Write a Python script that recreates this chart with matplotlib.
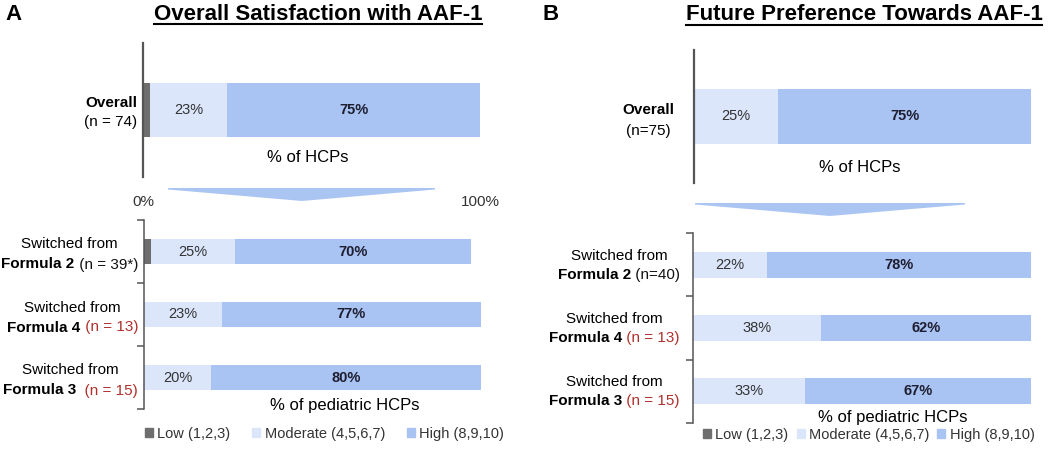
import matplotlib.pyplot as plt
from matplotlib.patches import Patch, Polygon
from matplotlib.transforms import offset_copy
from matplotlib.lines import Line2D

plt.rcParams['font.family'] = ['Liberation Sans', 'DejaVu Sans']

# ---- data (percent of HCPs) ----
groups = ['Formula 2', 'Formula 4', 'Formula 3']

a_title = 'Overall Satisfaction with AAF-1'
a_overall_n = '(n = 74)'
a_overall_low, a_overall_mod, a_overall_high = 2, 23, 75
a_n = [' (n = 39*)', ' (n = 13)', '  (n = 15)']
a_low = [2, 0, 0]
a_mod = [25, 23, 20]
a_high = [70, 77, 80]

b_title = 'Future Preference Towards AAF-1'
b_overall_n = '(n=75)'
b_overall_low, b_overall_mod, b_overall_high = 0, 25, 75
b_n = [' (n=40)', ' (n = 13)', ' (n = 15)']
b_low = [0, 0, 0]
b_mod = [22, 38, 33]
b_high = [78, 62, 67]

n_red = [False, True, True]
legend_labels = ['Low (1,2,3)', 'Moderate (4,5,6,7)', 'High (8,9,10)']

low_c, mod_c, high_c = '#6e6e6e', '#dbe6fb', '#a9c4f3'
red = '#b0302b'
spine_c = '#555555'

W, H = 1053, 454
fig = plt.figure(figsize=(W / 100, H / 100), dpi=100)


def box(l, t, r, b):
    return [l / W, 1 - b / H, (r - l) / W, (b - t) / H]


def bars(ax, low, mod, high, h):
    y = list(range(len(mod)))
    left_high = [a + b for a, b in zip(low, mod)]
    ax.barh(y, low, height=h, color=low_c)
    ax.barh(y, mod, left=low, height=h, color=mod_c)
    ax.barh(y, high, left=left_high, height=h, color=high_c)
    for i in y:
        ax.text(low[i] + mod[i] / 2, i, f'{mod[i]}%', ha='center', va='center',
                fontsize=10.5, color='#333333')
        ax.text(left_high[i] + high[i] / 2, i, f'{high[i]}%', ha='center', va='center',
                fontsize=10.5, color='#1e1e30', fontweight='bold')
    ax.set_xlim(0, 100)
    ax.patch.set_visible(False)
    for s in ['top', 'right', 'bottom']:
        ax.spines[s].set_visible(False)
    ax.spines['left'].set_color(spine_c)
    ax.set_yticks([])
    ax.set_xticks([])


# ---- axes ----
ax_a1 = fig.add_axes(box(143, 43, 480, 177))
bars(ax_a1, [a_overall_low], [a_overall_mod], [a_overall_high], 0.41)
ax_a1.set_ylim(-0.5, 0.5)
ax_a1.spines['left'].set_linewidth(1.6)
ax_a1.set_xticks([0, 100], ['0%', '100%'], fontsize=11, color='#333333')
ax_a1.tick_params(axis='x', length=0, pad=13)
ax_a1.text(0.49, 0.142, '% of HCPs', transform=ax_a1.transAxes, ha='center',
           va='center', fontsize=12)

ax_a2 = fig.add_axes(box(144, 220, 481, 409))
bars(ax_a2, a_low, a_mod, a_high, 0.41)
ax_a2.set_ylim(2.5, -0.5)
ax_a2.text(0.596, 0.021, '% of pediatric HCPs', transform=ax_a2.transAxes,
           ha='center', va='center', fontsize=12)

ax_b1 = fig.add_axes(box(694, 50, 1031, 183))
bars(ax_b1, [b_overall_low], [b_overall_mod], [b_overall_high], 0.41)
ax_b1.set_ylim(-0.5, 0.5)
ax_b1.spines['left'].set_linewidth(1.6)
ax_b1.text(0.493, 0.113, '% of HCPs', transform=ax_b1.transAxes, ha='center',
           va='center', fontsize=12)

ax_b2 = fig.add_axes(box(693, 233, 1031, 423))
bars(ax_b2, b_low, b_mod, b_high, 0.41)
ax_b2.set_ylim(2.5, -0.5)
ax_b2.text(0.59, 0.03, '% of pediatric HCPs', transform=ax_b2.transAxes,
           ha='center', va='center', fontsize=12)

for ax in [ax_a2, ax_b2]:
    ax.set_yticks([-0.5, 0.5, 1.5, 2.5], minor=True)
    ax.tick_params(axis='y', which='minor', length=5, width=1.1, color=spine_c)
    ax.spines['left'].set_linewidth(1.1)

# ---- titles ----
fig.text(5 / W, 1 - 15 / H, 'A', fontsize=16, fontweight='bold', va='center')
fig.text(543 / W, 1 - 15 / H, 'B', fontsize=16, fontweight='bold', va='center')
ta = fig.text(318 / W, 1 - 14 / H, a_title, fontsize=16, fontweight='bold',
              ha='center', va='center')
tb = fig.text(864 / W, 1 - 15 / H, b_title, fontsize=16, fontweight='bold',
              ha='center', va='center')

# ---- chevrons ----
for pts in [[(168, 188), (435, 188), (435, 189.5), (302, 201), (168, 189.5)],
            [(695, 203), (965, 203), (965, 204.5), (830, 216), (695, 204.5)]]:
    fig.patches.append(Polygon([(x / W, 1 - y / H) for x, y in pts], closed=True,
                               transform=fig.transFigure, color='#abc5f2', lw=0))

# ---- legends ----
handles = [Patch(color=c) for c in [low_c, mod_c, high_c]]
for x, y, cs in [(145, 434, 1.5), (703, 435, 0.55)]:
    fig.legend(handles, legend_labels, loc='center left',
               bbox_to_anchor=(x / W, 1 - y / H), ncol=3, frameon=False,
               fontsize=10.5, handlelength=0.55, handleheight=0.55,
               handletextpad=0.3, columnspacing=cs, borderpad=0,
               borderaxespad=0, labelcolor='#333333')

fig.canvas.draw()
r = fig.canvas.get_renderer()


def tr(ax, dx, dy):
    return offset_copy(ax.transData, fig=fig, x=dx, y=dy, units='dots')


def two_line(ax, y, first, bold, rest, rest_c, dx, up, down):
    t2 = ax.text(0, y, rest, color=rest_c, fontsize=11, ha='right', va='baseline',
                 transform=tr(ax, dx, -down))
    w2 = t2.get_window_extent(r).width
    t1 = ax.text(0, y, bold, fontsize=11, fontweight='bold', ha='right',
                 va='baseline', transform=tr(ax, dx - w2, -down))
    w1 = t1.get_window_extent(r).width
    ax.text(0, y, first, fontsize=11, ha='center', va='baseline',
            transform=tr(ax, dx - (w1 + w2) / 2, up))


# overall labels
ax_a1.text(0, 0, 'Overall', fontsize=11, fontweight='bold', ha='right',
           va='baseline', transform=tr(ax_a1, -6, 3))
ax_a1.text(0, 0, a_overall_n, fontsize=11, ha='right', va='baseline',
           transform=tr(ax_a1, -6, -16))
ax_b1.text(0, 0, 'Overall', fontsize=11, fontweight='bold', ha='center',
           va='baseline', transform=tr(ax_b1, -46, 2))
ax_b1.text(0, 0, b_overall_n, fontsize=11, ha='center', va='baseline',
           transform=tr(ax_b1, -46, -18))

for i, g in enumerate(groups):
    two_line(ax_a2, i, 'Switched from', g, a_n[i], red if n_red[i] else '#111111',
             -6, 3, 17)
    two_line(ax_b2, i, 'Switched from', g, b_n[i], red if n_red[i] else '#111111',
             -13, 5, 14)

# underline titles
for t, y in [(ta, 24), (tb, 25)]:
    bb = t.get_window_extent(r)
    fig.lines.append(Line2D([bb.x0 / W, bb.x1 / W], [1 - y / H, 1 - y / H],
                            transform=fig.transFigure, color='black', lw=1.5))

fig.savefig('out.png', dpi=100)
